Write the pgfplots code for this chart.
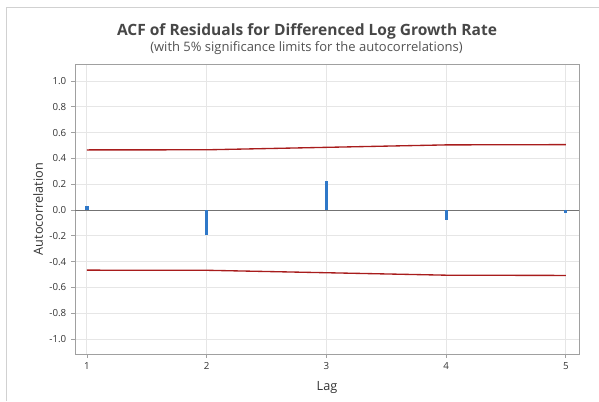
\documentclass[border=0pt]{standalone}
\usepackage{pgfplots}
\pgfplotsset{compat=1.18}
\usepackage{fontspec}
\setmainfont{Open Sans}
\definecolor{acfblue}{HTML}{2F78C8}
\definecolor{limred}{HTML}{A81C1C}
\definecolor{gridc}{HTML}{E6E6E6}
\definecolor{spinec}{HTML}{A0A0A0}
\definecolor{txt}{HTML}{333333}
\begin{document}
\begin{tikzpicture}[x=0.75pt,y=0.75pt]
\path[use as bounding box] (0,0) rectangle (599,401);
\draw[color=gridc!80!gray, line width=0.75pt] (6,0) -- (6,393) -- (599,393);
\node[font=\bfseries\fontsize{11.65}{14}\selectfont, text=txt!90!white] at (307,370) {ACF of Residuals for Differenced Log Growth Rate};
\node[font=\fontsize{9.75}{11}\selectfont, text=txt!85!white] at (306.5,353) {(with 5\% significance limits for the autocorrelations)};
\begin{axis}[
  at={(75*0.75pt,47*0.75pt)}, anchor=south west,
  scale only axis, width=504*0.75pt, height=290*0.75pt,
  xmin=0.9, xmax=5.11, ymin=-1.116, ymax=1.132,
  xtick={1,2,3,4,5},
  ytick={-1,-0.8,-0.6,-0.4,-0.2,0,0.2,0.4,0.6,0.8,1},
  yticklabel style={/pgf/number format/.cd, fixed, fixed zerofill, precision=1},
  /pgf/number format/assume math mode=true,
  ticklabel style={font=\fontsize{7.3}{8}\selectfont, text=txt},
  tick align=outside, tick pos=left,
  major tick length=3pt,
  every tick/.style={spinec, line width=0.6pt},
  axis line style={spinec, line width=0.75pt},
  grid=major, major grid style={gridc, line width=0.75pt},
  xlabel={Lag}, ylabel={Autocorrelation},
  label style={font=\fontsize{9.5}{11}\selectfont, text=txt},
  xlabel style={yshift=-2pt},
  ylabel style={yshift=-2pt},
  clip=true,
]
\addplot[gray!90!black, line width=0.75pt, forget plot] coordinates {(0.9,0) (5.11,0)};
\addplot[ycomb, acfblue, line width=2.4pt, no marks] coordinates {
(1,0.031) (2,-0.196) (3,0.224) (4,-0.074) (5,-0.024)};
\addplot[limred, line width=1.0pt, no marks] coordinates {
(1,0.466) (2,0.467) (3,0.486) (4,0.505) (5,0.507)};
\addplot[limred, line width=1.0pt, no marks] coordinates {
(1,-0.466) (2,-0.467) (3,-0.486) (4,-0.505) (5,-0.507)};
\end{axis}
\end{tikzpicture}
\end{document}
